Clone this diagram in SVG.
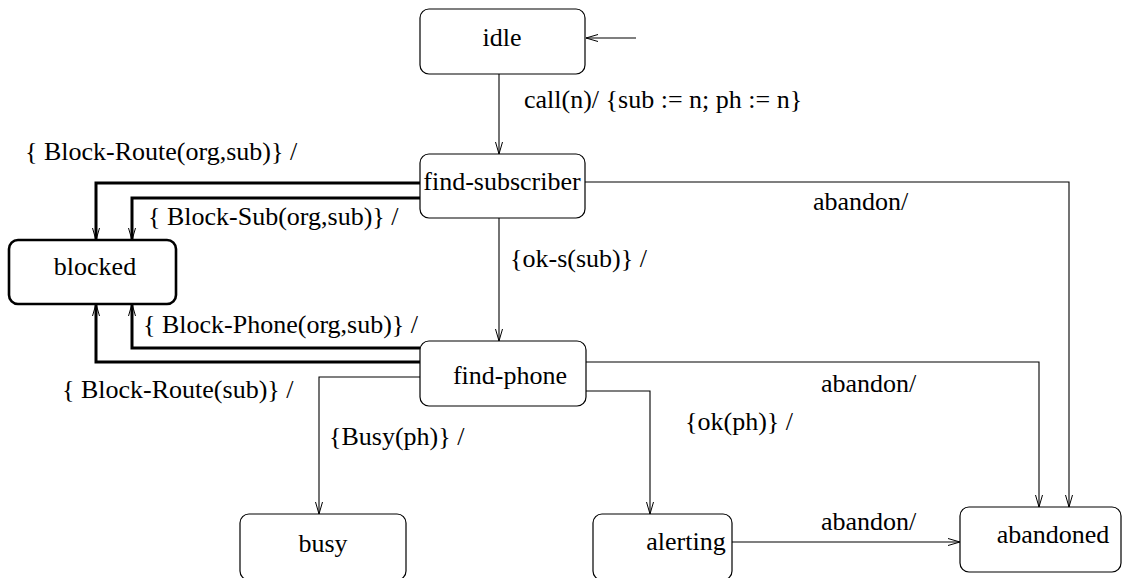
<svg xmlns="http://www.w3.org/2000/svg" width="1122" height="578" viewBox="0 0 1122 578">
<style>
text{font-family:"Liberation Serif","Times New Roman",serif;font-size:26px;fill:#000}
.st{fill:#fff;stroke:#000;stroke-width:1.2}
.thick{fill:#fff;stroke:#000;stroke-width:2.6}
.c{fill:none;stroke:#000;stroke-width:1.1}
.ct{fill:none;stroke:#000;stroke-width:3}
</style>
<defs>
<marker id="a" viewBox="0 0 12 8" refX="12" refY="4" markerWidth="12" markerHeight="8" markerUnits="userSpaceOnUse" orient="auto">
<polyline points="0,0.5 12,4 0,7.5" fill="none" stroke="#000" stroke-width="1"/>
</marker>
</defs>
<g id="connectors">
<line class="c" x1="636" y1="38" x2="586" y2="38" marker-end="url(#a)"/>
<line class="c" x1="499" y1="74" x2="499" y2="154" marker-end="url(#a)"/>
<line class="c" x1="499" y1="218" x2="499" y2="341" marker-end="url(#a)"/>
<polyline class="c" points="585,182 1069,182 1069,507" marker-end="url(#a)"/>
<polyline class="c" points="586,362 1039,362 1039,507" marker-end="url(#a)"/>
<polyline class="c" points="420,377 319,377 319,514" marker-end="url(#a)"/>
<polyline class="c" points="586,391 650,391 650,514" marker-end="url(#a)"/>
<line class="c" x1="732" y1="542" x2="960" y2="542" marker-end="url(#a)"/>
<polyline class="ct" points="420,183 96,183 96,240" marker-end="url(#a)"/>
<polyline class="ct" points="420,198 132,198 132,240" marker-end="url(#a)"/>
<polyline class="ct" points="420,348 132,348 132,304" marker-end="url(#a)"/>
<polyline class="ct" points="420,362 96,362 96,304" marker-end="url(#a)"/>
<text x="524" y="108">call(n)/ {sub := n; ph := n}</text>
<text x="510" y="267">{ok-s(sub)} /</text>
<text x="25" y="160">{ Block-Route(org,sub)} /</text>
<text x="148" y="225">{ Block-Sub(org,sub)} /</text>
<text x="143" y="333">{ Block-Phone(org,sub)} /</text>
<text x="62" y="398">{ Block-Route(sub)} /</text>
<text x="813" y="210">abandon/</text>
<text x="821" y="392">abandon/</text>
<text x="821" y="530">abandon/</text>
<text x="329" y="445">{Busy(ph)} /</text>
<text x="685" y="430">{ok(ph)} /</text>
</g>
<g id="idle"><rect class="st" x="420" y="9" width="165" height="65" rx="9"/><text x="502" y="46" text-anchor="middle">idle</text></g>
<g id="find-subscriber"><rect class="st" x="420" y="154" width="165" height="64" rx="9"/><text x="502" y="190" text-anchor="middle">find-subscriber</text></g>
<g id="find-phone"><rect class="st" x="420" y="341" width="166" height="65" rx="9"/><text x="510" y="384" text-anchor="middle">find-phone</text></g>
<g id="blocked"><rect class="thick" x="9" y="240" width="167" height="64" rx="9"/><text x="95" y="275" text-anchor="middle">blocked</text></g>
<g id="busy"><rect class="st" x="240" y="514" width="166" height="66" rx="9"/><text x="323" y="552" text-anchor="middle">busy</text></g>
<g id="alerting"><rect class="st" x="593" y="514" width="139" height="66" rx="9"/><text x="686" y="550" text-anchor="middle">alerting</text></g>
<g id="abandoned"><rect class="st" x="960" y="507" width="161" height="65" rx="9"/><text x="1053" y="543" text-anchor="middle">abandoned</text></g>
</svg>
